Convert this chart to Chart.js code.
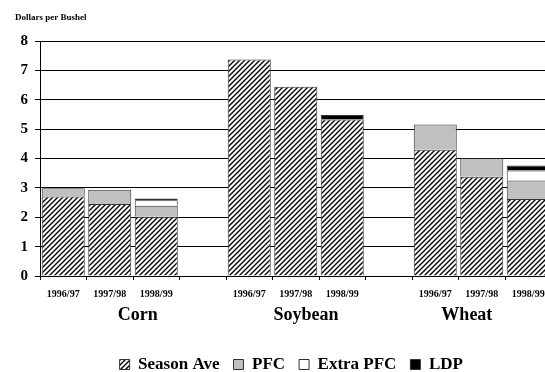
<!DOCTYPE html>
<html lang="en">
  <head>
    <meta charset="utf-8">
    <title>Dollars per Bushel</title>
    <style>
      html, body { margin: 0; padding: 0; background: #fff; overflow: hidden; }
    </style>
  </head>
  <body>
    <canvas id="myChart" width="582" height="372"></canvas>

    <script src="https://cdn.jsdelivr.net/npm/chart.js@4.4.0/dist/chart.umd.min.js"></script>
    <script>
      // one slot per bar, blank slots between crops
      const years = ['1996/97', '1997/98', '1998/99', '',
                     '1996/97', '1997/98', '1998/99', '',
                     '1996/97', '1997/98', '1998/99'];
      const crops = ['Corn', 'Soybean', 'Wheat'];

      const seasonAve = [2.71, 2.45, 2.02, null, 7.37, 6.44, 5.33, null, 4.30, 3.38, 2.62];
      const pfc       = [0.28, 0.49, 0.37, null, null, null, null, null, 0.86, 0.63, 0.63];
      const extraPfc  = [null, null, 0.19, null, null, null, null, null, null, null, 0.34];
      const ldp       = [null, null, 0.06, null, null, null, 0.15, null, null, null, 0.17];

      const yTicks = [0, 1, 2, 3, 4, 5, 6, 7, 8];
      const unitLabel = 'Dollars per Bushel';

      // hatch fill for Season Ave
      function hatch() {
        const c = document.createElement('canvas');
        c.width = 5; c.height = 5;
        const g = c.getContext('2d');
        g.fillStyle = '#fff';
        g.fillRect(0, 0, 5, 5);
        g.strokeStyle = '#000';
        g.lineWidth = 1.4;
        g.beginPath();
        g.moveTo(-1, 6); g.lineTo(6, -1);
        g.moveTo(-1, 1); g.lineTo(1, -1);
        g.moveTo(4, 6); g.lineTo(6, 4);
        g.stroke();
        return g.createPattern(c, 'repeat');
      }

      const serif = "'Liberation Serif', 'Times New Roman', serif";
      const ctx = document.getElementById('myChart').getContext('2d');

      // small unit caption in the top left corner, legend nudged right a bit
      const extras = {
        id: 'extras',
        afterLayout(c) {
          c.legend.left += 8;
          c.legend.right += 8;
        },
        afterDraw(c) {
          const g = c.ctx;
          g.save();
          g.font = 'bold 9px ' + serif;
          g.fillStyle = '#000';
          g.textBaseline = 'middle';
          g.fillText(unitLabel, 15, 18);
          g.restore();
        }
      };

      const data = {
        labels: years,
        datasets: [
          { label: 'Season Ave', data: seasonAve, backgroundColor: hatch() },
          { label: 'PFC', data: pfc, backgroundColor: '#c0c0c0' },
          { label: 'Extra PFC', data: extraPfc, backgroundColor: '#ffffff' },
          { label: 'LDP', data: ldp, backgroundColor: '#000000' }
        ]
      };
      data.datasets.forEach(ds => {
        ds.borderColor = '#333';
        ds.borderWidth = 1;
        ds.categoryPercentage = 1;
        ds.barPercentage = 0.925;
        ds.xAxisID = 'x';
      });

      // where the crop names sit, in slot units
      const cropPos = [2.1, 5.72, 9.18];

      const chart = new Chart(ctx, {
        type: 'bar',
        data: data,
        plugins: [extras],
        options: {
          responsive: false,
          animation: false,
          layout: { padding: { left: 15, right: 30.5, top: 41, bottom: -11 } },
          plugins: {
            legend: {
              position: 'bottom',
              labels: {
                color: '#000',
                font: { family: serif, size: 17, weight: 'bold' },
                boxWidth: 10,
                boxHeight: 10,
                padding: 14
              }
            },
            tooltip: { enabled: false }
          },
          scales: {
            x: {
              stacked: true,
              grid: { drawOnChartArea: false, offset: true, tickLength: 4, color: '#000' },
              border: { color: '#000' },
              ticks: {
                color: '#000',
                autoSkip: false,
                maxRotation: 0,
                padding: 8,
                font: { family: serif, size: 10, weight: 'bold' }
              },
              afterFit: s => { s.height = 25; }
            },
            x2: {
              type: 'linear',
              position: 'bottom',
              offset: false,
              bounds: 'data',
              min: 0,
              max: years.length,
              grid: { display: false, drawTicks: false, offset: false },
              border: { display: false },
              afterBuildTicks: s => { s.ticks = cropPos.map(v => ({ value: v })); },
              ticks: {
                color: '#000',
                padding: 4,
                autoSkip: false,
                maxRotation: 0,
                font: { family: serif, size: 18, weight: 'bold' },
                callback: (v, i) => crops[i]
              },
              afterFit: s => { s.height = 41; }
            },
            y: {
              stacked: true,
              min: 0,
              max: 8,
              afterBuildTicks: s => { s.ticks = yTicks.map(v => ({ value: v })); },
              grid: { color: '#000', tickLength: 5 },
              border: { color: '#000' },
              ticks: {
                color: '#000',
                padding: 7,
                font: { family: serif, size: 15, weight: 'bold' }
              },
              afterFit: s => { s.width = 25; }
            }
          }
        }
      });
    </script>
  </body>
</html>
